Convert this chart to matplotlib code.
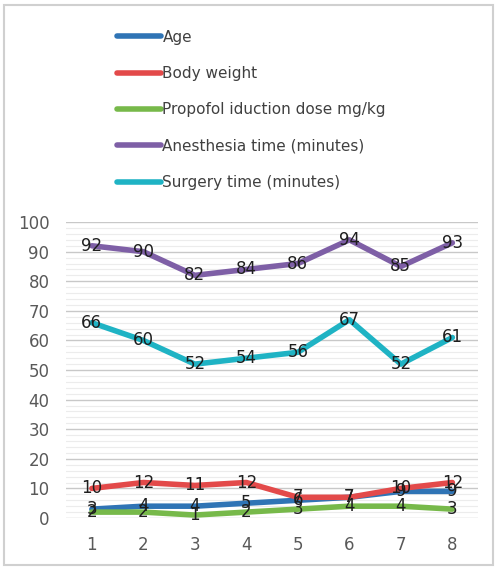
import matplotlib.pyplot as plt
from matplotlib.patches import Rectangle
import numpy as np

cases = [1, 2, 3, 4, 5, 6, 7, 8]
age = [3, 4, 4, 5, 6, 7, 9, 9]
body_weight = [10, 12, 11, 12, 7, 7, 10, 12]
propofol = [2, 2, 1, 2, 3, 4, 4, 3]
anesthesia = [92, 90, 82, 84, 86, 94, 85, 93]
surgery = [66, 60, 52, 54, 56, 67, 52, 61]

series = [
    ("Age", age, "#2f74b5"),
    ("Body weight", body_weight, "#e34a4a"),
    ("Propofol iduction dose mg/kg", propofol, "#77b94a"),
    ("Anesthesia time (minutes)", anesthesia, "#7e5fa6"),
    ("Surgery time (minutes)", surgery, "#1fb3c4"),
]

fig = plt.figure(figsize=(4.97, 5.68), dpi=100)
ax = fig.add_axes([0.133, 0.088, 0.829, 0.521])

# grid: major every 10, faint minor every 2
for y in np.arange(0, 101, 2):
    if y % 10 == 0:
        ax.axhline(y, color="#c8c8c8", lw=1.0, zorder=0)
    else:
        ax.axhline(y, color="#ececec", lw=0.8, zorder=0)

handles = []
for name, vals, col in series:
    h, = ax.plot(cases, vals, color=col, lw=4, solid_capstyle="round",
                 solid_joinstyle="round", label=name, zorder=2)
    handles.append(h)

# value labels centred on the points, drawn in a second pass so they sit on top
for name, vals, col in series:
    for x, v in zip(cases, vals):
        ax.text(x, v, str(v), ha="center", va="center", fontsize=12,
                color="#1e1e1e", zorder=5)

ax.set_xlim(0.5, 8.5)
ax.set_ylim(0, 100)
ax.set_yticks(range(0, 101, 10))
ax.set_xticks(cases)
ax.tick_params(axis="both", length=0, labelsize=12, labelcolor="#595959")
ax.tick_params(axis="x", pad=13)
ax.tick_params(axis="y", pad=12)
for s in ax.spines.values():
    s.set_visible(False)

fig.legend(handles=handles, loc="upper left", bbox_to_anchor=(0.207, 0.972),
           frameon=False, fontsize=11, handlelength=2.9, handletextpad=0.1,
           labelspacing=1.4, labelcolor="#404040")

fig.patches.append(Rectangle((0.008, 0.006), 0.984, 0.986, transform=fig.transFigure,
                             fill=False, edgecolor="#d0d0d0", lw=1.5))

fig.savefig("out.png", dpi=100)
